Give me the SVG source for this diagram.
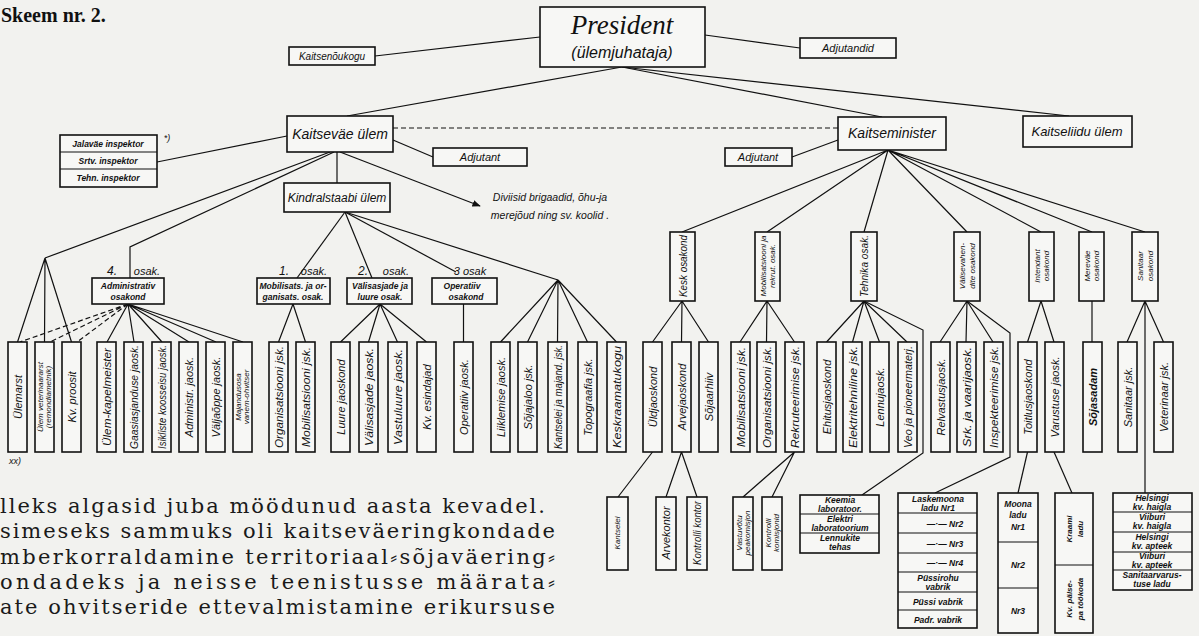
<svg xmlns="http://www.w3.org/2000/svg" width="1199" height="636" viewBox="0 0 1199 636">
<defs>
<style>
.b{fill:#f7f7f5;stroke:#111;stroke-width:1.6}
.l{stroke:#111;stroke-width:1.2;fill:none}
.d{stroke:#111;stroke-width:1.2;fill:none;stroke-dasharray:5 3}
.t{font-family:"Liberation Sans",Arial,sans-serif;font-style:italic;fill:#111;text-anchor:middle}
.v{font-family:"Liberation Sans",Arial,sans-serif;font-style:italic;fill:#111;text-anchor:middle;dominant-baseline:central;font-size:11px}
.vs{font-family:"Liberation Sans",Arial,sans-serif;font-style:italic;fill:#111;text-anchor:middle;dominant-baseline:central;font-size:8px}
.s{font-family:"Liberation Sans",Arial,sans-serif;font-style:italic;font-weight:bold;fill:#111;text-anchor:middle;font-size:8.5px}
.p{font-family:"DejaVu Serif","Liberation Serif",serif;fill:#1a1a1a;font-size:21px}
</style>
<marker id="ah" viewBox="0 0 10 10" refX="9" refY="5" markerWidth="7" markerHeight="7" orient="auto"><path d="M0,1 L10,5 L0,9 Z" fill="#111"/></marker>
</defs>
<rect width="1199" height="636" fill="#f2f2ef"/>
<text x="1" y="22" font-family="Liberation Serif,serif" font-weight="bold" font-size="20" fill="#111">Skeem nr. 2.</text>

<g id="connectors">
<path class="l" d="M375,56 L540,37"/>
<path class="l" d="M705,35 L800,48"/>
<path class="l" d="M622,67 L347,116"/>
<path class="l" d="M622,67 L882,117"/>
<path class="l" d="M622,67 L1069,116"/>
<path class="d" d="M393,128 L838,128"/>
<path class="l" d="M393,140 L433,157"/>
<path class="l" d="M838,140 L792,157"/>
<path class="l" d="M157,162 L287,136"/>
<path class="l" d="M337,152 L337,183"/>
<path class="l" d="M340,152 L480,206" marker-end="url(#ah)"/>
<path class="l" d="M330,152 L45,258"/>
<path class="l" d="M334,152 L130,247 L130,278"/>
<path class="l" d="M345,212 L297,278"/>
<path class="l" d="M345,212 L372,278"/>
<path class="l" d="M345,212 L456,272"/>
<path class="l" d="M345,212 L558,280"/>
<path class="l" d="M45,258 L17.5,342 M45,258 L44.5,342 M45,258 L71.5,342"/>
<path class="d" d="M128,304 L20,342 M128,304 L50,342 M128,304 L77,342"/>
<path class="l" d="M128,304 L107,342 M128,304 L134,342 M128,304 L162,342 M128,304 L189,342 M128,304 L216,342 M128,304 L243,342"/>
<path class="l" d="M293,304 L278.5,342 M293,304 L305.5,342"/>
<path class="l" d="M380,304 L340.5,342 M380,304 L368.5,342 M380,304 L397.5,342 M380,304 L426.5,342"/>
<path class="l" d="M463.5,304 L463.5,342"/>
<path class="l" d="M558,280 L500.5,342 M558,280 L527.5,342 M558,280 L557.5,342 M558,280 L587.5,342 M558,280 L616.5,342"/>
<path class="l" d="M888,150 L682,232 M888,150 L767,232 M888,150 L864,232 M888,150 L967,232 M888,150 L1041,232 M888,150 L1092,232 M888,150 L1145,232"/>
<path class="l" d="M682,301 L652.5,342 M682,301 L681.5,342 M682,301 L708.5,342"/>
<path class="l" d="M767,301 L740,342 M767,301 L766.5,342 M767,301 L794.5,342"/>
<path class="l" d="M864,301 L826.5,342 M864,301 L852.5,342 M864,301 L879.5,342 M864,301 L907,342"/>
<path class="l" d="M864,301 L923,330 L923,453 L862,495"/>
<path class="l" d="M967,301 L940,342 M967,301 L966,342 M967,301 L993,342"/>
<path class="l" d="M967,301 L1010,333 L1010,457 L935,493"/>
<path class="l" d="M1041,301 L1027.5,342 M1041,301 L1054,342"/>
<path class="l" d="M1092,301 L1092,342"/>
<path class="l" d="M1145,301 L1127,342 M1145,301 L1163.5,342 M1145,301 L1145,493"/>
<path class="l" d="M652.5,452 L618,497"/>
<path class="l" d="M681.5,452 L666,497 M681.5,452 L697,497"/>
<path class="l" d="M794.5,452 L743,497 M794.5,452 L772,497"/>
<path class="l" d="M1027.5,452 L1018,493"/>
<path class="l" d="M1054,452 L1072,493"/>
</g>

<g id="president"><rect class="b" x="540" y="7" width="165" height="60"/>
<text x="622" y="34" font-family="Liberation Serif,serif" font-style="italic" font-size="27" text-anchor="middle" fill="#111">President</text>
<text class="t" x="622" y="58" font-size="16">(ülemjuhataja)</text></g>
<g id="kaitsenoukogu"><rect class="b" x="289" y="47" width="86" height="18"/><text class="t" x="332" y="60" font-size="10">Kaitsenõukogu</text></g>
<g id="adjutandid"><rect class="b" x="800" y="38" width="96" height="20"/><text class="t" x="848" y="52" font-size="11">Adjutandid</text></g>
<g id="kaitsevae-ulem"><rect class="b" x="287" y="116" width="106" height="36"/><text class="t" x="340" y="139" font-size="14">Kaitseväe ülem</text></g>
<g id="kaitseminister"><rect class="b" x="838" y="117" width="108" height="33"/><text class="t" x="892" y="138" font-size="14">Kaitseminister</text></g>
<g id="kaitseliidu-ulem"><rect class="b" x="1023" y="116" width="109" height="31"/><text class="t" x="1077" y="136" font-size="13">Kaitseliidu ülem</text></g>
<g id="adjutant-l"><rect class="b" x="433" y="148" width="94" height="18"/><text class="t" x="480" y="161" font-size="11">Adjutant</text></g>
<g id="adjutant-r"><rect class="b" x="725" y="148" width="67" height="18"/><text class="t" x="758" y="161" font-size="11">Adjutant</text></g>
<g id="inspektorid"><rect class="b" x="60" y="135" width="97" height="52"/>
<path class="l" d="M60,152 H157 M60,169 H157"/>
<text class="s" x="108" y="147">Jalaväe inspektor</text>
<text class="s" x="108" y="164">Srtv. inspektor</text>
<text class="s" x="108" y="181">Tehn. inspektor</text>
<text class="t" x="167" y="141" font-size="9">*)</text></g>
<g id="kindralstaabi-ulem"><rect class="b" x="284" y="183" width="106" height="29"/><text class="t" x="337" y="202" font-size="12">Kindralstaabi ülem</text></g>
<g id="diviisid"><text class="t" x="550" y="201" font-size="10.5">Diviisid brigaadid, õhu-ja</text><text class="t" x="550" y="219" font-size="10.5">merejõud ning sv. koolid .</text></g>

<g id="osak4"><text class="t" x="112" y="275" font-size="12">4.</text><text class="t" x="147" y="275" font-size="11">osak.</text>
<rect class="b" x="92" y="278" width="72" height="26"/><text class="s" x="128" y="289">Administrativ</text><text class="s" x="128" y="300">osakond</text></g>
<g id="osak1"><text class="t" x="284" y="275" font-size="12">1.</text><text class="t" x="314" y="275" font-size="11">osak.</text>
<rect class="b" x="257" y="278" width="73" height="26"/><text class="s" x="293" y="289">Mobilisats. ja or-</text><text class="s" x="293" y="300">ganisats. osak.</text></g>
<g id="osak2"><text class="t" x="363" y="275" font-size="12">2.</text><text class="t" x="396" y="275" font-size="11">osak.</text>
<rect class="b" x="347" y="278" width="65" height="26"/><text class="s" x="380" y="289">Välisasjade ja</text><text class="s" x="380" y="300">luure osak.</text></g>
<g id="osak3"><text class="t" x="470" y="275" font-size="11">3 osak</text>
<rect class="b" x="432" y="278" width="65" height="26"/><text class="s" x="462" y="289">Operatiiv</text><text class="s" x="466" y="300">osakond</text></g>

<g id="n1"><rect class="b" x="8" y="342" width="19" height="110"/><text class="v" x="17.5" y="397" transform="rotate(-90 17.5 397)">Ülemarst</text></g>
<g id="n2"><rect class="b" x="35" y="342" width="19" height="110"/><text class="vs" x="40.5" y="397" transform="rotate(-90 40.5 397)">Ülem veterinaararst</text><text class="vs" x="48.5" y="397" transform="rotate(-90 48.5 397)">(remondiametnik)</text></g>
<g id="n3"><rect class="b" x="62" y="342" width="19" height="110"/><text class="v" x="71.5" y="397" transform="rotate(-90 71.5 397)">Kv. proosit</text></g>
<g id="n4"><rect class="b" x="97" y="342" width="19" height="110"/><text class="v" x="106.5" y="397" transform="rotate(-90 106.5 397)" textLength="98" lengthAdjust="spacingAndGlyphs">Ülem-kapelmeister</text></g>
<g id="n5"><rect class="b" x="124" y="342" width="19" height="110"/><text class="v" x="133.5" y="397" transform="rotate(-90 133.5 397)" textLength="104" lengthAdjust="spacingAndGlyphs">Gaasiasjanduse jaosk.</text></g>
<g id="n6"><rect class="b" x="152" y="342" width="19" height="110"/><text class="v" x="161.5" y="397" transform="rotate(-90 161.5 397)" textLength="104" lengthAdjust="spacingAndGlyphs">Isikliste koosseisu jaosk.</text></g>
<g id="n7"><rect class="b" x="179" y="342" width="19" height="110"/><text class="v" x="188.5" y="397" transform="rotate(-90 188.5 397)">Administr. jaosk.</text></g>
<g id="n8"><rect class="b" x="206" y="342" width="19" height="110"/><text class="v" x="215.5" y="397" transform="rotate(-90 215.5 397)">Väljaõppe jaosk.</text></g>
<g id="n9"><rect class="b" x="233" y="342" width="19" height="110"/><text class="vs" x="238.5" y="397" transform="rotate(-90 238.5 397)">Majandusosa</text><text class="vs" x="246.5" y="397" transform="rotate(-90 246.5 397)">vanem-ohvitser</text></g>
<g id="n10"><rect class="b" x="269" y="342" width="19" height="110"/><text class="v" x="278.5" y="397" transform="rotate(-90 278.5 397)" textLength="102" lengthAdjust="spacingAndGlyphs">Organisatsiooni jsk.</text></g>
<g id="n11"><rect class="b" x="296" y="342" width="19" height="110"/><text class="v" x="305.5" y="397" transform="rotate(-90 305.5 397)" textLength="100" lengthAdjust="spacingAndGlyphs">Mobilisatsiooni jsk.</text></g>
<g id="n12"><rect class="b" x="331" y="342" width="19" height="110"/><text class="v" x="340.5" y="397" transform="rotate(-90 340.5 397)">Luure jaoskond</text></g>
<g id="n13"><rect class="b" x="359" y="342" width="19" height="110"/><text class="v" x="368.5" y="397" transform="rotate(-90 368.5 397)" textLength="98" lengthAdjust="spacingAndGlyphs">Välisasjade jaosk.</text></g>
<g id="n14"><rect class="b" x="388" y="342" width="19" height="110"/><text class="v" x="397.5" y="397" transform="rotate(-90 397.5 397)" textLength="96" lengthAdjust="spacingAndGlyphs">Vastuluure jaosk.</text></g>
<g id="n15"><rect class="b" x="417" y="342" width="19" height="110"/><text class="v" x="426.5" y="397" transform="rotate(-90 426.5 397)">Kv. esindajad</text></g>
<g id="n16"><rect class="b" x="454" y="342" width="19" height="110"/><text class="v" x="463.5" y="397" transform="rotate(-90 463.5 397)">Operatiiv jaosk.</text></g>
<g id="n17"><rect class="b" x="491" y="342" width="19" height="110"/><text class="v" x="500.5" y="397" transform="rotate(-90 500.5 397)">Liiklemise jaosk.</text></g>
<g id="n18"><rect class="b" x="518" y="342" width="19" height="110"/><text class="v" x="527.5" y="397" transform="rotate(-90 527.5 397)">Sõjajaloo jsk.</text></g>
<g id="n19"><rect class="b" x="548" y="342" width="19" height="110"/><text class="v" x="557.5" y="397" transform="rotate(-90 557.5 397)" textLength="104" lengthAdjust="spacingAndGlyphs">Kantselei ja majand. jsk.</text></g>
<g id="n20"><rect class="b" x="578" y="342" width="19" height="110"/><text class="v" x="587.5" y="397" transform="rotate(-90 587.5 397)">Topograafia jsk.</text></g>
<g id="n21"><rect class="b" x="607" y="342" width="19" height="110"/><text class="v" x="616.5" y="397" transform="rotate(-90 616.5 397)" textLength="102" lengthAdjust="spacingAndGlyphs">Keskraamatukogu</text></g>

<g id="kesk"><rect class="b" x="670" y="232" width="25" height="69"/><text class="v" x="682.5" y="266" transform="rotate(-90 682.5 266)" font-size="9.5" textLength="62" lengthAdjust="spacingAndGlyphs">Kesk osakond</text></g>
<g id="mobrek"><rect class="b" x="755" y="232" width="25" height="69"/><text class="vs" x="763" y="266" transform="rotate(-90 763 266)">Mobilisatsiooni ja</text><text class="vs" x="772" y="266" transform="rotate(-90 772 266)">rekrut. osak.</text></g>
<g id="tehnika"><rect class="b" x="851" y="232" width="26" height="69"/><text class="v" x="864" y="266" transform="rotate(-90 864 266)" font-size="9.5" textLength="62" lengthAdjust="spacingAndGlyphs">Tehnika osak.</text></g>
<g id="valise"><rect class="b" x="954" y="232" width="26" height="69"/><text class="vs" x="962" y="266" transform="rotate(-90 962 266)">Välisevahen-</text><text class="vs" x="972" y="266" transform="rotate(-90 972 266)">dite osakond</text></g>
<g id="intendant"><rect class="b" x="1029" y="232" width="25" height="69"/><text class="vs" x="1037" y="266" transform="rotate(-90 1037 266)" font-size="9">Intendant</text><text class="vs" x="1046" y="266" transform="rotate(-90 1046 266)" font-size="9">osakond</text></g>
<g id="merevae"><rect class="b" x="1079" y="232" width="25" height="69"/><text class="vs" x="1087" y="266" transform="rotate(-90 1087 266)" font-size="9">Mereväe</text><text class="vs" x="1096" y="266" transform="rotate(-90 1096 266)" font-size="9">osakond</text></g>
<g id="sanitaar"><rect class="b" x="1132" y="232" width="26" height="69"/><text class="vs" x="1140" y="266" transform="rotate(-90 1140 266)" font-size="9">Sanitaar</text><text class="vs" x="1150" y="266" transform="rotate(-90 1150 266)" font-size="9">osakond</text></g>

<g id="n22"><rect class="b" x="643" y="342" width="19" height="110"/><text class="v" x="652.5" y="397" transform="rotate(-90 652.5 397)">Üldjaoskond</text></g>
<g id="n23"><rect class="b" x="672" y="342" width="19" height="110"/><text class="v" x="681.5" y="397" transform="rotate(-90 681.5 397)">Arvejaoskond</text></g>
<g id="n24"><rect class="b" x="699" y="342" width="19" height="110"/><text class="v" x="708.5" y="397" transform="rotate(-90 708.5 397)">Sõjaarhiiv</text></g>
<g id="n25"><rect class="b" x="731" y="342" width="19" height="110"/><text class="v" x="740.5" y="397" transform="rotate(-90 740.5 397)" textLength="100" lengthAdjust="spacingAndGlyphs">Mobilisatsiooni jsk.</text></g>
<g id="n26"><rect class="b" x="757" y="342" width="19" height="110"/><text class="v" x="766.5" y="397" transform="rotate(-90 766.5 397)" textLength="102" lengthAdjust="spacingAndGlyphs">Organisatsiooni jsk.</text></g>
<g id="n27"><rect class="b" x="785" y="342" width="19" height="110"/><text class="v" x="794.5" y="397" transform="rotate(-90 794.5 397)" textLength="102" lengthAdjust="spacingAndGlyphs">Rekruteerimise jsk.</text></g>
<g id="n28"><rect class="b" x="817" y="342" width="19" height="110"/><text class="v" x="826.5" y="397" transform="rotate(-90 826.5 397)">Ehitusjaoskond</text></g>
<g id="n29"><rect class="b" x="843" y="342" width="19" height="110"/><text class="v" x="852.5" y="397" transform="rotate(-90 852.5 397)" textLength="102" lengthAdjust="spacingAndGlyphs">Elektritehniline jsk.</text></g>
<g id="n30"><rect class="b" x="870" y="342" width="19" height="110"/><text class="v" x="879.5" y="397" transform="rotate(-90 879.5 397)">Lennujaosk.</text></g>
<g id="n31"><rect class="b" x="898" y="342" width="19" height="110"/><text class="v" x="907.5" y="397" transform="rotate(-90 907.5 397)" textLength="102" lengthAdjust="spacingAndGlyphs">Veo ja pioneermaterj.</text></g>
<g id="n32"><rect class="b" x="931" y="342" width="19" height="110"/><text class="v" x="940.5" y="397" transform="rotate(-90 940.5 397)">Relvastusjaosk.</text></g>
<g id="n33"><rect class="b" x="957" y="342" width="19" height="110"/><text class="v" x="966.5" y="397" transform="rotate(-90 966.5 397)" textLength="100" lengthAdjust="spacingAndGlyphs">Srk. ja vaarijaosk.</text></g>
<g id="n34"><rect class="b" x="984" y="342" width="19" height="110"/><text class="v" x="993.5" y="397" transform="rotate(-90 993.5 397)" textLength="102" lengthAdjust="spacingAndGlyphs">Inspekteerimise jsk.</text></g>
<g id="n35"><rect class="b" x="1018" y="342" width="19" height="110"/><text class="v" x="1027.5" y="397" transform="rotate(-90 1027.5 397)">Toitlusjaoskond</text></g>
<g id="n36"><rect class="b" x="1045" y="342" width="19" height="110"/><text class="v" x="1054.5" y="397" transform="rotate(-90 1054.5 397)">Varustuse jaosk.</text></g>
<g id="n37"><rect class="b" x="1083" y="342" width="19" height="110"/><text class="v" x="1092.5" y="397" transform="rotate(-90 1092.5 397)" font-weight="bold">Sõjasadam</text></g>
<g id="n38"><rect class="b" x="1118" y="342" width="19" height="110"/><text class="v" x="1127.5" y="397" transform="rotate(-90 1127.5 397)">Sanitaar jsk.</text></g>
<g id="n39"><rect class="b" x="1154" y="342" width="19" height="110"/><text class="v" x="1163.5" y="397" transform="rotate(-90 1163.5 397)">Veterinaar jsk.</text></g>
<text class="t" x="15" y="464" font-size="9">xx)</text>

<g id="kantselei"><rect class="b" x="607" y="497" width="21" height="73"/><text class="vs" x="617.5" y="533" transform="rotate(-90 617.5 533)">Kantselei</text></g>
<g id="arvekontor"><rect class="b" x="656" y="497" width="20" height="73"/><text class="v" x="666" y="533" transform="rotate(-90 666 533)" font-size="10">Arvekontor</text></g>
<g id="kontrollikontor"><rect class="b" x="687" y="497" width="20" height="73"/><text class="v" x="697" y="533" transform="rotate(-90 697 533)" font-size="9" textLength="64" lengthAdjust="spacingAndGlyphs">Kontrolli kontor</text></g>
<g id="vastuvotu"><rect class="b" x="733" y="497" width="20" height="73"/><text class="vs" x="739" y="533" transform="rotate(-90 739 533)">Vastuvõtu</text><text class="vs" x="747" y="533" transform="rotate(-90 747 533)">peakomisjon</text></g>
<g id="kontrollikomisjonid"><rect class="b" x="762" y="497" width="20" height="73"/><text class="vs" x="768" y="533" transform="rotate(-90 768 533)">Kontrolli</text><text class="vs" x="776" y="533" transform="rotate(-90 776 533)">komisjonid</text></g>

<g id="keemia"><rect class="b" x="800" y="495" width="79" height="58"/><path class="l" d="M800,514 H879 M800,533 H879"/>
<text class="s" x="840" y="503">Keemia</text><text class="s" x="840" y="512">laboratoor.</text>
<text class="s" x="840" y="522">Elektri</text><text class="s" x="840" y="531">laboratoorium</text>
<text class="s" x="840" y="541">Lennukite</text><text class="s" x="840" y="550">tehas</text></g>
<g id="laskemoona"><rect class="b" x="898" y="493" width="79" height="135"/><path class="l" d="M898,513 H977 M898,533 H977 M898,553 H977 M898,572 H977 M898,592 H977 M898,610 H977"/>
<text class="s" x="938" y="502">Laskemoona</text><text class="s" x="938" y="511">ladu Nr1</text>
<text class="s" x="945" y="527" font-size="10">—·— Nr2</text>
<text class="s" x="945" y="547" font-size="10">—·— Nr3</text>
<text class="s" x="945" y="566" font-size="10">—·— Nr4</text>
<text class="s" x="938" y="581">Püssirohu</text><text class="s" x="938" y="590">vabrik</text>
<text class="s" x="938" y="605" font-size="9.5">Püssi vabrik</text>
<text class="s" x="938" y="623" font-size="9.5">Padr. vabrik</text></g>
<g id="moona"><rect class="b" x="998" y="493" width="40" height="140"/><path class="l" d="M998,542 H1038 M998,588 H1038"/>
<text class="s" x="1018" y="507">Moona</text><text class="s" x="1018" y="518">ladu</text><text class="s" x="1018" y="530">Nr1</text>
<text class="s" x="1018" y="568" font-size="10">Nr2</text>
<text class="s" x="1018" y="614" font-size="10">Nr3</text></g>
<g id="kraami"><rect class="b" x="1055" y="493" width="38" height="140"/><path class="l" d="M1055,565 H1093"/>
<text class="vs" x="1069" y="529" transform="rotate(-90 1069 529)" font-size="9" font-weight="bold">Kraami</text><text class="vs" x="1080" y="529" transform="rotate(-90 1080 529)" font-size="9" font-weight="bold">ladu</text>
<text class="vs" x="1069" y="599" transform="rotate(-90 1069 599)" font-size="8.5" font-weight="bold">Kv. pälse-</text><text class="vs" x="1080" y="599" transform="rotate(-90 1080 599)" font-size="8.5" font-weight="bold">pa töökoda</text></g>
<g id="haiglad"><rect class="b" x="1113" y="493" width="79" height="97"/><path class="l" d="M1113,512 H1192 M1113,532 H1192 M1113,552 H1192 M1113,570 H1192"/>
<text class="s" x="1152" y="501">Helsingi</text><text class="s" x="1152" y="510">kv. haigla</text>
<text class="s" x="1152" y="520">Viiburi</text><text class="s" x="1152" y="529">kv. haigla</text>
<text class="s" x="1152" y="540">Helsingi</text><text class="s" x="1152" y="549">kv. apteek</text>
<text class="s" x="1152" y="559">Viiburi</text><text class="s" x="1152" y="568">kv. apteek</text>
<text class="s" x="1152" y="578">Sanitaarvarus-</text><text class="s" x="1152" y="587">tuse ladu</text></g>

<g id="paragraph">
<text class="p" x="0" y="513" textLength="545" lengthAdjust="spacing">lleks algasid juba möödunud aasta kevadel.</text>
<text class="p" x="0" y="538" textLength="555" lengthAdjust="spacing">simeseks sammuks oli kaitseväeringkondade</text>
<text class="p" x="0" y="564" textLength="555" lengthAdjust="spacing">mberkorraldamine territoriaal⸗sõjaväering⸗</text>
<text class="p" x="0" y="589" textLength="555" lengthAdjust="spacing">ondadeks ja neisse teenistusse määrata⸗</text>
<text class="p" x="0" y="614" textLength="555" lengthAdjust="spacing">ate ohvitseride ettevalmistamine erikursuse</text>
</g>
</svg>
